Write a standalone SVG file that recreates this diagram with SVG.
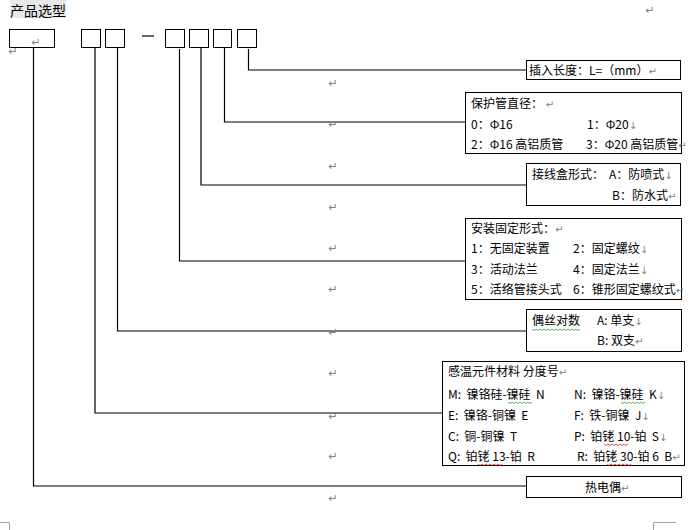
<svg xmlns="http://www.w3.org/2000/svg" width="699" height="530" viewBox="0 0 699 530">
<style>
.bx{fill:#fff;stroke:#000;stroke-width:1}
.cn{fill:none;stroke:#000;stroke-width:1.2}
.t{font-family:"Noto Sans CJK SC","Noto Sans",sans-serif;font-size:12px;fill:#000}
.pm{font-family:"DejaVu Sans",sans-serif;font-size:10px;fill:#808080}
.pc{font-family:"DejaVu Sans",sans-serif;font-size:11px;fill:#808080;text-anchor:middle}
.wg{fill:none;stroke:#2e9e2e;stroke-width:0.8}
.wr{fill:none;stroke:#e02020;stroke-width:0.8}
.crop{fill:none;stroke:#a0a0a0;stroke-width:1}
</style>
<rect width="699" height="530" fill="#fff"/>
<g id="title">
<rect x="10" y="0" width="56" height="18" fill="#e8e8e8"/>
<text x="10" y="15.5" font-family="Noto Sans CJK SC,sans-serif" font-size="14" fill="#000">产品选型</text>
<text x="650" y="14" class="pc">↵</text>
</g>
<g id="code-boxes">
<rect class="bx" x="9.5" y="29.5" width="45" height="18"/>
<text x="36" y="46" class="pc">↵</text>
<text x="13" y="55" class="pc">↵</text>
<rect class="bx" x="81.5" y="29.5" width="19" height="18"/>
<rect class="bx" x="105.5" y="29.5" width="19" height="18"/>
<line x1="142" y1="36" x2="154" y2="36" stroke="#000" stroke-width="1.2"/>
<rect class="bx" x="165.5" y="29.5" width="19" height="18"/>
<rect class="bx" x="189.5" y="29.5" width="19" height="18"/>
<rect class="bx" x="213.5" y="29.5" width="18" height="18"/>
<rect class="bx" x="237.5" y="29.5" width="19" height="18"/>
</g>
<g id="connectors">
<polyline class="cn" points="33.5,47.5 33.5,486 526,486"/>
<polyline class="cn" points="95,47.5 95,413 442,413"/>
<polyline class="cn" points="117.5,47.5 117.5,331 526,331"/>
<polyline class="cn" points="179.5,49 179.5,261 465,261"/>
<polyline class="cn" points="201,47.5 201,185 526,185"/>
<polyline class="cn" points="224.5,47.5 224.5,122 465,122"/>
<polyline class="cn" points="248.5,49 248.5,70 526,70"/>
</g>
<g id="para-marks">
<text class="pc" x="333" y="87">↵</text>
<text class="pc" x="333" y="128">↵</text>
<text class="pc" x="333" y="170">↵</text>
<text class="pc" x="333" y="211">↵</text>
<text class="pc" x="333" y="252">↵</text>
<text class="pc" x="333" y="293">↵</text>
<text class="pc" x="333" y="336">↵</text>
<text class="pc" x="333" y="377">↵</text>
<text class="pc" x="333" y="420">↵</text>
<text class="pc" x="333" y="460">↵</text>
<text class="pc" x="333" y="502">↵</text>
</g>
<g id="node-length">
<rect class="bx" x="526.5" y="60.5" width="154" height="19"/>
<text class="t" x="529" y="75">插入长度：L=（mm）<tspan class="pm">↵</tspan></text>
</g>
<g id="node-diameter">
<rect class="bx" x="465.5" y="92.5" width="216" height="61"/>
<text class="t" x="471" y="108">保护管直径：  <tspan class="pm">↵</tspan></text>
<text class="t" x="471" y="129">0：Φ16</text>
<text class="t" x="587" y="129">1：Φ20<tspan class="pm">↓</tspan></text>
<text class="t" x="471" y="149">2：Φ16 高铝质管</text>
<text class="t" x="586" y="149">3：Φ20 高铝质管<tspan class="pm">↵</tspan></text>
</g>
<g id="node-junction">
<rect class="bx" x="526.5" y="163.5" width="154" height="42"/>
<text class="t" x="532" y="179">接线盒形式： </text>
<text class="t" x="609" y="179">A：防喷式<tspan class="pm">↓</tspan></text>
<text class="t" x="612" y="200">B：防水式<tspan class="pm">↵</tspan></text>
</g>
<g id="node-mounting">
<rect class="bx" x="465.5" y="218.5" width="216" height="81"/>
<text class="t" x="471" y="233">安装固定形式：<tspan class="pm">↵</tspan></text>
<text class="t" x="471" y="253">1：无固定装置</text>
<text class="t" x="573" y="253">2：固定螺纹<tspan class="pm">↓</tspan></text>
<text class="t" x="471" y="274">3：活动法兰</text>
<text class="t" x="573" y="274">4：固定法兰<tspan class="pm">↓</tspan></text>
<text class="t" x="471" y="294">5：活络管接头式</text>
<text class="t" x="573" y="294">6：锥形固定螺纹式<tspan class="pm">↵</tspan></text>
</g>
<g id="node-pairs">
<rect class="bx" x="526.5" y="309.5" width="155" height="42"/>
<text class="t" x="532" y="325">偶丝对数</text>
<path class="wg" d="M532 329 l2 1.5 l2 -1.5 l2 1.5 l2 -1.5 l2 1.5 l2 -1.5 l2 1.5 l2 -1.5 l2 1.5 l2 -1.5 l2 1.5 l2 -1.5 l2 1.5 l2 -1.5 l2 1.5 l2 -1.5 l2 1.5 l2 -1.5 l2 1.5 l2 -1.5 l2 1.5 l2 -1.5 l2 1.5 l2 -1.5"/>
<text class="t" x="597" y="325">A:  单支<tspan class="pm">↓</tspan></text>
<text class="t" x="597" y="345">B:  双支<tspan class="pm">↵</tspan></text>
</g>
<g id="node-material">
<rect class="bx" x="442.5" y="361.5" width="242" height="104"/>
<text class="t" x="448" y="376">感温元件材料 分度号<tspan class="pm">↵</tspan></text>
<text class="t" x="448" y="399" xml:space="preserve">M:  镍铬硅-镍硅  N</text>
<path class="wg" d="M508 402 l2 1.5 l2 -1.5 l2 1.5 l2 -1.5 l2 1.5 l2 -1.5 l2 1.5 l2 -1.5 l2 1.5 l2 -1.5 l2 1.5 l2 -1.5"/>
<text class="t" x="574" y="399" xml:space="preserve">N:  镍铬-镍硅  K<tspan class="pm">↓</tspan></text>
<path class="wg" d="M621 402 l2 1.5 l2 -1.5 l2 1.5 l2 -1.5 l2 1.5 l2 -1.5 l2 1.5 l2 -1.5 l2 1.5 l2 -1.5 l2 1.5 l2 -1.5"/>
<text class="t" x="448" y="420" xml:space="preserve">E:  镍铬-铜镍  E</text>
<text class="t" x="574" y="420" xml:space="preserve">F:  铁-铜镍  J<tspan class="pm">↓</tspan></text>
<text class="t" x="448" y="441" xml:space="preserve">C:  铜-铜镍  T</text>
<text class="t" x="574" y="441" xml:space="preserve">P:  铂铑 10-铂  S<tspan class="pm">↓</tspan></text>
<path class="wr" d="M604 444 l2 1.5 l2 -1.5 l2 1.5 l2 -1.5 l2 1.5 l2 -1.5 l2 1.5 l2 -1.5 l2 1.5 l2 -1.5 l2 1.5 l2 -1.5"/>
<text class="t" x="448" y="461" xml:space="preserve">Q:  铂铑 13-铂  R</text>
<path class="wr" d="M478 464 l2 1.5 l2 -1.5 l2 1.5 l2 -1.5 l2 1.5 l2 -1.5 l2 1.5 l2 -1.5 l2 1.5 l2 -1.5 l2 1.5 l2 -1.5"/>
<text class="t" x="577" y="461" xml:space="preserve">R:  铂铑 30-铂 6  B<tspan class="pm">↵</tspan></text>
<path class="wr" d="M607 464 l2 1.5 l2 -1.5 l2 1.5 l2 -1.5 l2 1.5 l2 -1.5 l2 1.5 l2 -1.5 l2 1.5 l2 -1.5 l2 1.5 l2 -1.5"/>
</g>
<g id="node-thermocouple">
<rect class="bx" x="526.5" y="476.5" width="155" height="21"/>
<text class="t" x="585" y="492">热电偶<tspan class="pm">↵</tspan></text>
</g>
<g id="crop-marks">
<polyline class="crop" points="0,522.5 9.5,522.5 9.5,530"/>
<polyline class="crop" points="676,522.5 653.5,522.5 653.5,530"/>
</g>
</svg>
